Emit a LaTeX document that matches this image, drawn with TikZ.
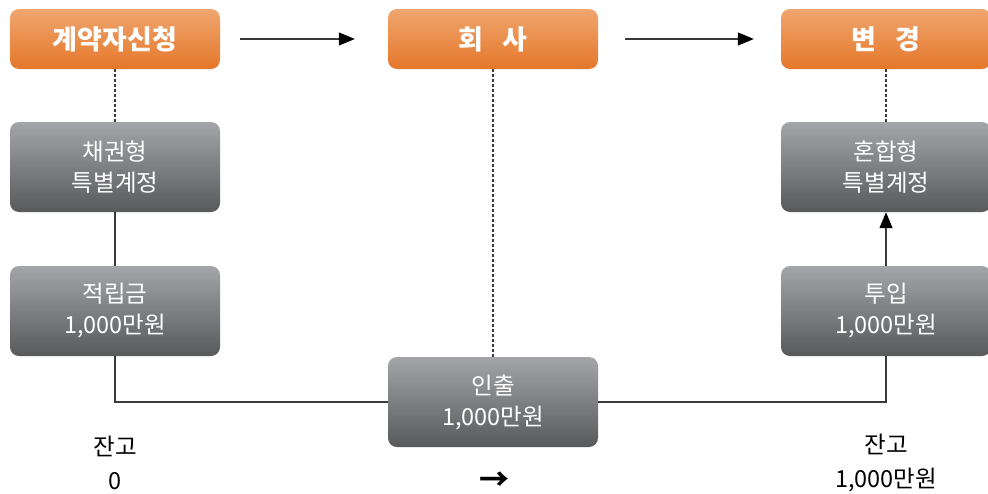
\documentclass[tikz,border=0pt]{standalone}
\usepackage{fontspec}
\setmainfont{Noto Sans CJK KR}
\usetikzlibrary{calc, arrows, arrows.meta}
\definecolor{orangetop}{HTML}{EFA66F}
\definecolor{orangebot}{HTML}{E5772A}
\definecolor{graytop}{HTML}{A4A5A8}
\definecolor{graybot}{HTML}{58595B}
\definecolor{linegray}{HTML}{3A3A3A}
\tikzset{
    head/.style={rounded corners=9pt, minimum width=210pt, minimum height=60pt,
        top color=orangetop, bottom color=orangebot, text=white,
        font=\fontsize{27}{30}\selectfont\bfseries},
    fund/.style={rounded corners=9pt, minimum width=210pt, minimum height=90pt,
        top color=graytop, bottom color=graybot, text=white, align=center,
        font=\fontsize{23.5}{31}\selectfont},
    balance/.style={align=center, text=black, font=\fontsize{23.5}{34}\selectfont},
    link/.style={linegray, line width=1.1pt},
    guide/.style={linegray, line width=1.1pt, dash pattern=on 3pt off 2pt},
    tip/.style={-{Triangle[length=16pt, width=13pt, black]}},
}

\begin{document}
\begin{tikzpicture}[x=1pt, y=-1pt]
        \useasboundingbox (0,0) rectangle (988,493);
        \node[head] (apply) at (115,39) {계약자신청};
        \node[head] (company) at (493,39) {회\hspace{0.7em}사};
        \node[head] (change) at (886,39) {변\hspace{0.7em}경};
        \node[fund] (bond) at (115,167) {채권형\\특별계정};
        \node[fund] (saved) at (115,311) {적립금\\1,000만원};
        \node[fund] (withdraw) at (493,402) {인출\\1,000만원};
        \node[fund] (mixed) at (886,167) {혼합형\\특별계정};
        \node[fund] (invest) at (886,311) {투입\\1,000만원};
        \node[balance] (before) at (115,463) {잔고\\0};
        \node[balance] (after) at (886,463) {잔고\\1,000만원};
        \node[font=\fontsize{30}{30}\selectfont\bfseries] (turn) at (494,481) {→};
        \draw[link, tip] ([xshift=20pt]apply.east) -- ([xshift=-33pt]company.west);
        \draw[link, tip] ([xshift=27pt]company.east) -- ([xshift=-27pt]change.west);
        \draw[guide] (apply.south) -- (bond.north);
        \draw[guide] (company.south) -- (withdraw.north);
        \draw[guide] (change.south) -- (mixed.north);
        \draw[link] (bond.south) -- (saved.north);
        \draw[link] (saved.south) |- (withdraw.west);
        \draw[link] (withdraw.east) -| (invest.south);
        \draw[link, tip] (invest.north) -- (mixed.south);
\end{tikzpicture}
\end{document}
